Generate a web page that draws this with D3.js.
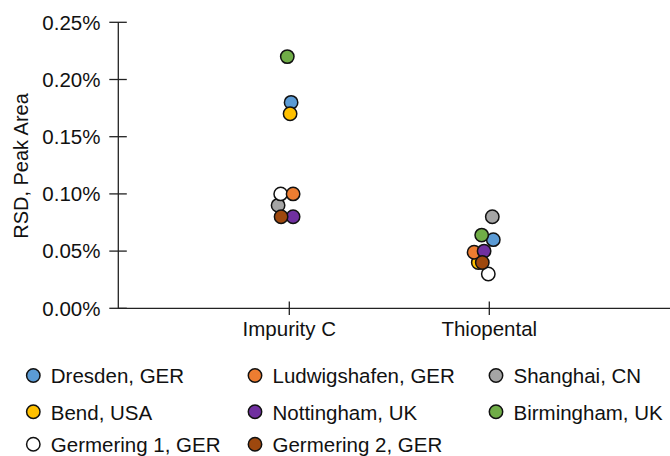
<!DOCTYPE html>
<html lang="en">
<head>
<meta charset="utf-8">
<title>RSD, Peak Area</title>
<script src="https://d3js.org/d3.v7.min.js"></script>
<style>
    body { margin: 0; background: #fff; }
    svg { display: block; font-family: "Liberation Sans", Arial, Helvetica, sans-serif; }
    text { fill: #111; }
</style>
</head>
<body>
<div id="chart"></div>
<script>
    // data (values in %)
    const categories = ["Impurity C", "Thiopental"];
    const sites = ["Dresden, GER", "Ludwigshafen, GER", "Shanghai, CN",
                   "Bend, USA", "Nottingham, UK", "Birmingham, UK",
                   "Germering 1, GER", "Germering 2, GER"];
    const colors = ["#5b9bd5", "#ed7d31", "#a5a5a5", "#ffc000",
                    "#7030a0", "#70ad47", "#ffffff", "#9e480e"];
    const impurityC  = [0.180, 0.100, 0.090, 0.170, 0.080, 0.220, 0.100, 0.080];
    const thiopental = [0.060, 0.049, 0.080, 0.040, 0.050, 0.064, 0.030, 0.040];
    // horizontal dodge, as a fraction of the category step
    const jitterImpurityC  = [0.009, 0.019, -0.056, 0.004, 0.019, -0.010, -0.043, -0.041];
    const jitterThiopental = [0.020, -0.076, 0.015, -0.055, -0.026, -0.038, -0.005, -0.035];
    const drawOrder = [2, 0, 3, 6, 1, 4, 7, 5];
    const yTicks = [0, 0.05, 0.10, 0.15, 0.20, 0.25];

    const width = 670, height = 456;
    const axisLeft = 118.3, axisRight = 670, axisBottom = 308.3, axisTop = 22.3;

    const svg = d3.select("#chart").append("svg")
        .attr("width", width)
        .attr("height", height);

    const y = d3.scaleLinear().domain([0, 0.25]).range([axisBottom, axisTop]);
    const x = d3.scalePoint().domain(categories).range([289.3, 489.3]);
    const fmt = d => d3.format(".2f")(d) + "%";

    // axes
    const axes = svg.append("g").attr("stroke", "#222").attr("stroke-width", 1.3);
    axes.append("line")
        .attr("x1", axisLeft).attr("x2", axisLeft)
        .attr("y1", axisTop).attr("y2", axisBottom);
    axes.append("line")
        .attr("x1", axisLeft).attr("x2", axisRight)
        .attr("y1", axisBottom).attr("y2", axisBottom);
    axes.selectAll(".ytick").data(yTicks).enter().append("line")
        .attr("x1", axisLeft - 9).attr("x2", axisLeft + 8.5)
        .attr("y1", d => y(d)).attr("y2", d => y(d));
    axes.selectAll(".xtick").data(categories).enter().append("line")
        .attr("x1", d => x(d)).attr("x2", d => x(d))
        .attr("y1", axisBottom - 6.7).attr("y2", axisBottom + 6.7);

    svg.selectAll(".ylabel").data(yTicks).enter().append("text")
        .attr("x", 100.5)
        .attr("y", d => y(d))
        .attr("dy", "0.36em")
        .attr("text-anchor", "end")
        .style("font-size", "20.5px")
        .text(d => fmt(d));

    svg.selectAll(".xlabel").data(categories).enter().append("text")
        .attr("x", d => x(d))
        .attr("y", 335.5)
        .attr("text-anchor", "middle")
        .style("font-size", "20.5px")
        .text(d => d);

    svg.append("text")
        .attr("transform", "translate(28,166) rotate(-90)")
        .attr("text-anchor", "middle")
        .style("font-size", "20px")
        .text("RSD, Peak Area");

    // points
    const points = [];
    drawOrder.forEach(i => {
        points.push({cat: categories[0], v: impurityC[i], j: jitterImpurityC[i], c: colors[i]});
        points.push({cat: categories[1], v: thiopental[i], j: jitterThiopental[i], c: colors[i]});
    });
    svg.append("g").selectAll("circle").data(points).enter().append("circle")
        .attr("cx", d => x(d.cat) + d.j * x.step())
        .attr("cy", d => y(d.v))
        .attr("r", 6.7)
        .attr("fill", d => d.c)
        .attr("stroke", "#111")
        .attr("stroke-width", 1.5);

    // legend, three columns
    const colX = [33.3, 255, 496];
    const rowY = [383.3, 419.5, 452];
    const legend = svg.append("g").selectAll("g").data(sites).enter().append("g")
        .attr("transform", (d, i) => `translate(${colX[i % 3]},${rowY[Math.floor(i / 3)]})`);
    legend.append("circle")
        .attr("cx", 0).attr("cy", -7.8).attr("r", 6.7)
        .attr("fill", (d, i) => colors[i])
        .attr("stroke", "#111").attr("stroke-width", 1.5);
    legend.append("text")
        .attr("x", 17.5).attr("y", 0)
        .style("font-size", "20.5px")
        .text(d => d);
</script>
</body>
</html>
